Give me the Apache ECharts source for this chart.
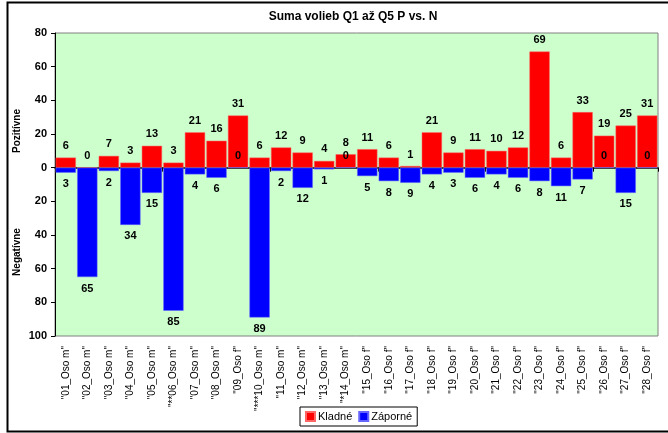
<!DOCTYPE html>
<html>
<head>
<meta charset="utf-8">
<script src="https://cdn.jsdelivr.net/npm/echarts@6/dist/echarts.min.js"></script>
<style>
  html, body { margin: 0; padding: 0; background: #fff; }
  #chart { width: 668px; height: 433px; }
</style>
</head>
<body>
<div id="chart"></div>
<script>
// kategórie (osoby)
const categories = [
  '"01_Oso m"', '"02_Oso m"', '"03_Oso m"', '"04_Oso m"', '"05_Oso m"', '"**06_Oso m"', '"07_Oso m"',
  '"08_Oso m"', '"09_Oso f"', '"***10_Oso m"', '"11_Oso m"', '"12_Oso m"', '"13_Oso m"', '"*14_Oso m"',
  '"15_Oso f"', '"16_Oso f"', '"17_Oso f"', '"18_Oso f"', '"19_Oso f"', '"20_Oso f"', '"21_Oso f"',
  '"22_Oso f"', '"23_Oso f"', '"24_Oso f"', '"25_Oso f"', '"26_Oso f"', '"27_Oso f"', '"28_Oso f"'
];
// kladné odpovede
const kladne = [6, 0, 7, 3, 13, 3, 21, 16, 31, 6, 12, 9, 4, 8, 11, 6, 1, 21, 9, 11, 10, 12, 69, 6, 33, 19, 25, 31];
// záporné odpovede (kreslené smerom dole)
const zaporne = [3, 65, 2, 34, 15, 85, 4, 6, 0, 89, 2, 12, 1, 0, 5, 8, 9, 4, 3, 6, 4, 6, 8, 11, 7, 0, 15, 0];
// os y
const yMin = -100;
const yMax = 80;
const yStep = 20;

const font = '"Liberation Sans", Arial, sans-serif';

const myChart = echarts.init(document.getElementById('chart'));
const option = {
  animation: false,
  textStyle: { fontFamily: font },
  title: {
    text: 'Suma volieb Q1 až Q5 P vs. N',
    left: 348,
    top: 6,
    textAlign: 'center',
    textStyle: { fontSize: 12, fontWeight: 'bold', color: '#000', fontFamily: font }
  },
  legend: {
    left: 300,
    top: 407,
    padding: [4, 5],
    itemWidth: 9,
    itemHeight: 9,
    itemGap: 6,
    borderColor: '#000',
    borderWidth: 1,
    borderRadius: 0,
    textStyle: { fontSize: 11, color: '#000', fontFamily: font, padding: [0, 0, 0, -2] },
    data: [
      { name: 'Kladné', icon: 'rect' },
      { name: 'Záporné', icon: 'rect' }
    ]
  },
  graphic: [
    {
      type: 'rect',
      shape: { x: 7.5, y: 2.5, width: 700, height: 429 },
      style: { fill: 'none', stroke: '#000', lineWidth: 2 },
      silent: true
    },
    {
      type: 'text',
      x: 17, y: 131, rotation: Math.PI / 2,
      style: { text: 'Pozitívne', font: 'bold 10px ' + font, fill: '#000', align: 'center', verticalAlign: 'middle' }
    },
    {
      type: 'text',
      x: 17, y: 252, rotation: Math.PI / 2,
      style: { text: 'Negatívne', font: 'bold 10px ' + font, fill: '#000', align: 'center', verticalAlign: 'middle' }
    }
  ],
  grid: {
    left: 55,
    right: 10,
    top: 33,
    bottom: 97,
    show: true,
    backgroundColor: '#CCFFCC',
    borderColor: '#808080',
    borderWidth: 1
  },
  xAxis: [
    {
      type: 'category',
      data: categories,
      position: 'bottom',
      axisLine: { show: false, onZero: false },
      axisTick: { show: false },
      axisLabel: { rotate: 90, fontSize: 10, color: '#000', margin: 10, interval: 0, fontFamily: font }
    },
    {
      type: 'category',
      data: categories,
      position: 'bottom',
      axisLine: { show: true, onZero: true, lineStyle: { color: '#000', width: 1.5 } },
      axisTick: { show: true, length: 4, lineStyle: { color: '#000' } },
      axisLabel: { show: false }
    }
  ],
  yAxis: {
    type: 'value',
    min: yMin,
    max: yMax,
    interval: yStep,
    axisLine: { show: true, lineStyle: { color: '#000' } },
    axisTick: { show: true, length: 4, lineStyle: { color: '#000' } },
    splitLine: { show: false },
    axisLabel: {
      fontSize: 11, fontWeight: 'bold', color: '#000', margin: 8, fontFamily: font,
      formatter: function (v) { return Math.abs(v); }
    }
  },
  series: [
    {
      name: 'Kladné',
      type: 'bar',
      xAxisIndex: 0,
      barCategoryGap: '6%',
      barGap: '-100%',
      itemStyle: { color: '#FF0000', borderColor: '#ff6666', borderWidth: 0.5 },
      label: {
        show: true, position: 'top', distance: 6,
        fontSize: 11, fontWeight: 'bold', color: '#000', fontFamily: font
      },
      data: kladne
    },
    {
      name: 'Záporné',
      type: 'bar',
      xAxisIndex: 0,
      barCategoryGap: '6%',
      barGap: '-100%',
      itemStyle: { color: '#0000FF', borderColor: '#6666ff', borderWidth: 0.5 },
      label: {
        show: true, distance: 6,
        fontSize: 11, fontWeight: 'bold', color: '#000', fontFamily: font,
        formatter: function (p) { return Math.abs(p.value); }
      },
      data: zaporne.map(function (v) {
        return { value: -v, label: { position: v === 0 ? 'top' : 'bottom' } };
      })
    }
  ]
};
myChart.setOption(option);
</script>
</body>
</html>
